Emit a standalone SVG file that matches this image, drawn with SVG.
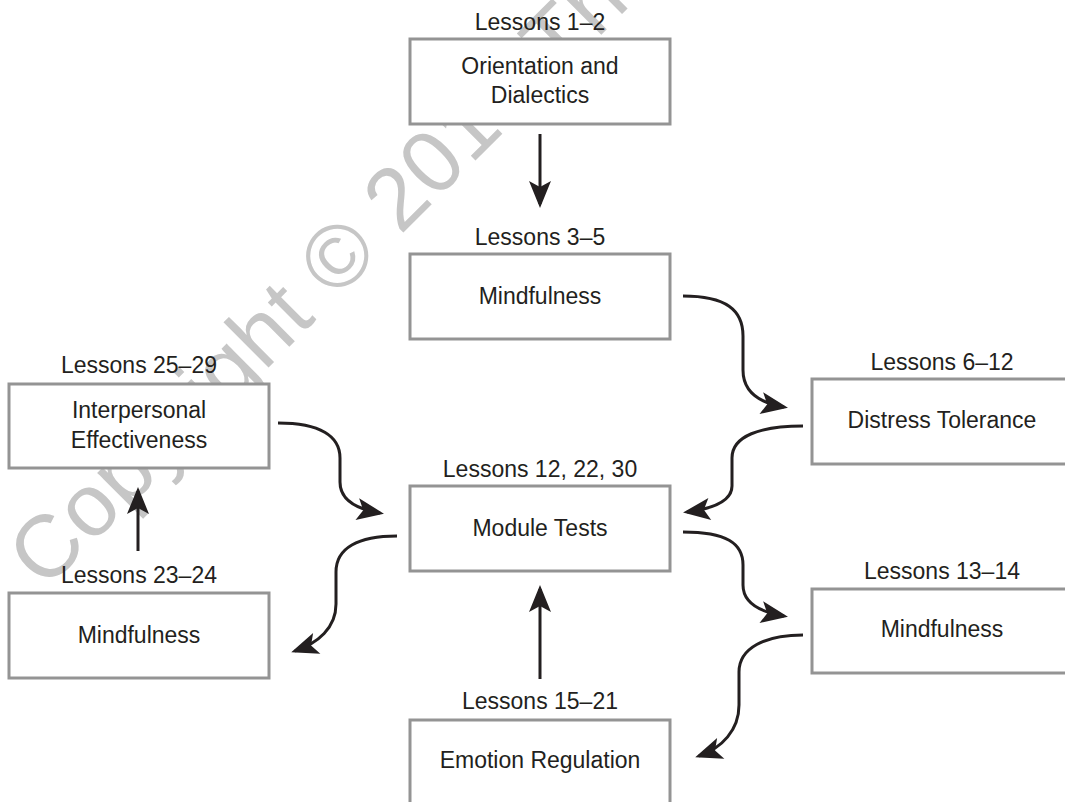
<svg xmlns="http://www.w3.org/2000/svg" width="1065" height="802" viewBox="0 0 1065 802">
  <style>
    .box { fill: #ffffff; stroke: #949494; stroke-width: 3; }
    .t { font-family: "Liberation Sans", Arial, sans-serif; font-size: 23px; fill: #231f20; text-anchor: middle; }
    .wm { font-family: "Liberation Sans", Arial, sans-serif; font-size: 88px; fill: #c6c6c6; letter-spacing: 1px; }
    .conn path { fill: none; stroke: #231f20; stroke-width: 3; marker-end: url(#ah); }
  </style>
  <defs>
    <marker id="ah" markerUnits="userSpaceOnUse" markerWidth="40" markerHeight="40" refX="0" refY="0" orient="auto" overflow="visible">
      <path d="M4,0 L-23,-11 L-17,0 L-23,11 Z" fill="#231f20"/>
    </marker>
  </defs>
  <rect width="1065" height="802" fill="#ffffff"/>

  <text class="wm" transform="translate(45,591) rotate(-45)">Copyright © 2016 The</text>

  <g id="connectors" class="conn">
    <path d="M540,134 L540,204"/>
    <path d="M683,296 C726,296 743,310 743,336 L743,370 C743,392 760,403 784,407"/>
    <path d="M803,426 C760,426 732,436 732,458 L732,486 C732,502 710,509 687,512"/>
    <path d="M683,532 C726,532 743,543 743,565 L743,585 C743,603 760,612 784,616"/>
    <path d="M803,635 C765,635 739,648 739,672 L739,705 C739,730 722,748 699,756"/>
    <path d="M540,679 L540,589"/>
    <path d="M278,423 C320,423 340,436 340,458 L340,482 C340,500 356,509 380,513"/>
    <path d="M397,536 C358,536 336,548 336,572 L336,604 C336,628 318,643 295,651"/>
    <path d="M138,551 L138,491"/>
  </g>

  <g id="orientation">
    <text class="t" x="540" y="30">Lessons 1–2</text>
    <rect class="box" x="410" y="39" width="260" height="85"/>
    <text class="t" x="540" y="74">Orientation and</text>
    <text class="t" x="540" y="103">Dialectics</text>
  </g>

  <g id="mindfulness1">
    <text class="t" x="540" y="245">Lessons 3–5</text>
    <rect class="box" x="410" y="254" width="260" height="85"/>
    <text class="t" x="540" y="304">Mindfulness</text>
  </g>

  <g id="distress">
    <text class="t" x="942" y="370">Lessons 6–12</text>
    <rect class="box" x="812" y="379" width="260" height="85"/>
    <text class="t" x="942" y="428">Distress Tolerance</text>
  </g>

  <g id="module">
    <text class="t" x="540" y="477">Lessons 12, 22, 30</text>
    <rect class="box" x="410" y="486" width="260" height="85"/>
    <text class="t" x="540" y="536">Module Tests</text>
  </g>

  <g id="mindfulness2">
    <text class="t" x="942" y="579">Lessons 13–14</text>
    <rect class="box" x="812" y="589" width="260" height="84"/>
    <text class="t" x="942" y="637">Mindfulness</text>
  </g>

  <g id="emotion">
    <text class="t" x="540" y="709">Lessons 15–21</text>
    <rect class="box" x="410" y="720" width="260" height="85"/>
    <text class="t" x="540" y="768">Emotion Regulation</text>
  </g>

  <g id="interpersonal">
    <text class="t" x="139" y="373">Lessons 25–29</text>
    <rect class="box" x="9" y="384" width="260" height="84"/>
    <text class="t" x="139" y="418">Interpersonal</text>
    <text class="t" x="139" y="448">Effectiveness</text>
  </g>

  <g id="mindfulness3">
    <text class="t" x="139" y="583">Lessons 23–24</text>
    <rect class="box" x="9" y="593" width="260" height="85"/>
    <text class="t" x="139" y="643">Mindfulness</text>
  </g>
</svg>
